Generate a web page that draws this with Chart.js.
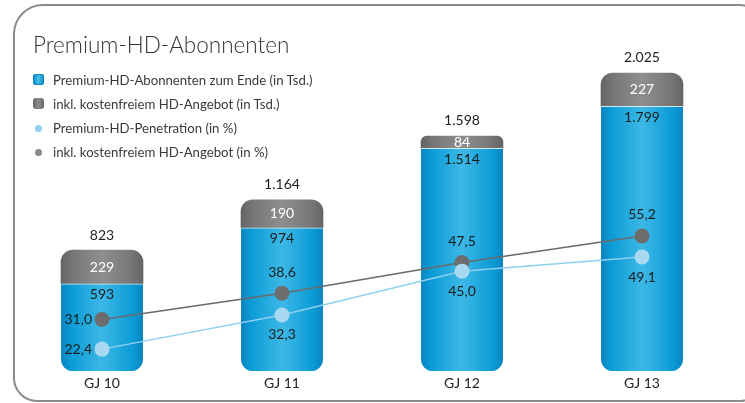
<!DOCTYPE html>
<html>
<head>
<meta charset="utf-8">
<script src="https://cdn.jsdelivr.net/npm/chart.js@4"></script>
<style>
html,body{margin:0;padding:0;background:#fff;overflow:hidden;}
#wrap{position:relative;width:745px;height:403px;overflow:hidden;}
#frame{position:absolute;left:13px;top:4px;width:747px;height:398px;border:2px solid #8c8c8c;border-radius:30px 20px 20px 24px;box-sizing:border-box;}
#title{position:absolute;left:33px;top:34px;font-family:Lato,sans-serif;font-weight:300;font-size:22.5px;line-height:22px;color:#333;white-space:nowrap;}
#legend{position:absolute;left:33px;top:68px;font-family:Lato,sans-serif;font-size:13.2px;color:#3a3a3a;}
.row{height:24px;line-height:24px;white-space:nowrap;position:relative;padding-left:20px;}
.ico{position:absolute;}
#c{position:absolute;left:0;top:0;}
</style>
</head>
<body>
<div id="wrap">
  <div id="frame"></div>
  <canvas id="c" width="745" height="403"></canvas>
  <div id="title">Premium-HD-Abonnenten</div>
  <div id="legend"></div>
</div>
<script>
// ---- data ----
const categories = ['GJ 10', 'GJ 11', 'GJ 12', 'GJ 13'];
const premiumHD = [593, 974, 1514, 1799];          // Premium-HD-Abonnenten zum Ende (in Tsd.)
const freeHD = [229, 190, 84, 227];                // inkl. kostenfreiem HD-Angebot (in Tsd.)
const totals = [823, 1164, 1598, 2025];            // total label above bar
const penetration = [22.4, 32.3, 45.0, 49.1];      // Premium-HD-Penetration (in %)
const penetrationAll = [31.0, 38.6, 47.5, 55.2];   // inkl. kostenfreiem HD-Angebot (in %)
const seriesNames = [
  'Premium-HD-Abonnenten zum Ende (in Tsd.)',
  'inkl. kostenfreiem HD-Angebot (in Tsd.)',
  'Premium-HD-Penetration (in %)',
  'inkl. kostenfreiem HD-Angebot (in %)'
];

function fmtInt(v){ return String(v).replace(/\B(?=(\d{3})+(?!\d))/g, '.'); }
function fmtPct(v){ return v.toFixed(1).replace('.', ','); }

// ---- legend (HTML) ----
const icons = [
  '<span class="ico" style="left:0;top:6px;width:11px;height:11px;border-radius:3px;background:linear-gradient(90deg,#0b8ac6,#45bde8,#0b8ac6);box-shadow:inset 0 0 0 1px #0a86c0"></span>',
  '<span class="ico" style="left:0;top:6px;width:11px;height:11px;border-radius:3px;background:linear-gradient(90deg,#666,#8e8e8e,#666)"></span>',
  '<span class="ico" style="left:2px;top:9px;width:7px;height:7px;border-radius:50%;background:#8fd0ee"></span>',
  '<span class="ico" style="left:2px;top:9px;width:7px;height:7px;border-radius:50%;background:#888"></span>'
];
document.getElementById('legend').innerHTML = seriesNames.map((n, i) =>
  '<div class="row">' + icons[i] + n + '</div>').join('');

// ---- gradients ----
function barGradient(context, stops, fallback) {
  const chart = context.chart;
  if (!chart.chartArea || context.dataIndex === undefined) return fallback;
  const x = chart.scales.x.getPixelForValue(context.dataIndex);
  const g = chart.ctx.createLinearGradient(x - 41, 0, x + 41, 0);
  stops.forEach(s => g.addColorStop(s[0], s[1]));
  return g;
}
const blueStops = [[0,'#0a84c0'],[0.12,'#0b9bd6'],[0.5,'#3cb8e6'],[0.88,'#0b9bd6'],[1,'#0a84c0']];
const greyStops = [[0,'#646464'],[0.15,'#777'],[0.5,'#8e8e8e'],[0.85,'#777'],[1,'#646464']];

// ---- labels plugin ----
const valueLabels = {
  id: 'valueLabels',
  afterDatasetsDraw(chart) {
    const ctx = chart.ctx;
    const mB = chart.getDatasetMeta(0), mG = chart.getDatasetMeta(1);
    const mP = chart.getDatasetMeta(2), mA = chart.getDatasetMeta(3);
    ctx.save();
    ctx.font = '14px Lato';
    ctx.textBaseline = 'middle';
    categories.forEach((c, i) => {
      const b = mB.data[i], g = mG.data[i];
      ctx.textAlign = 'center';
      ctx.fillStyle = '#222';
      ctx.fillText(fmtInt(totals[i]), g.x, g.y - 15);
      ctx.fillStyle = '#fff';
      ctx.fillText(fmtInt(freeHD[i]), g.x, (g.y + g.base) / 2);
      ctx.fillStyle = '#1c1c1c';
      ctx.fillText(fmtInt(premiumHD[i]), b.x, b.y + 11);
      const pa = mA.data[i], pp = mP.data[i];
      if (i === 0) {
        ctx.textAlign = 'right';
        ctx.fillText(fmtPct(penetrationAll[i]), pa.x - 10, pa.y);
        ctx.fillText(fmtPct(penetration[i]), pp.x - 10, pp.y);
      } else {
        ctx.textAlign = 'center';
        ctx.fillText(fmtPct(penetrationAll[i]), pa.x, pa.y - 21);
        ctx.fillText(fmtPct(penetration[i]), pp.x, pp.y + 20);
      }
    });
    ctx.restore();
  }
};

Chart.defaults.font.family = 'Lato';
new Chart(document.getElementById('c'), {
  data: {
    labels: categories,
    datasets: [
      {
        type: 'bar', label: seriesNames[0], data: premiumHD, yAxisID: 'y', order: 2,
        backgroundColor: ctx => barGradient(ctx, blueStops, '#1aa6db'),
        borderColor: '#cfeaf6', borderWidth: {top: 1, left: 0, right: 0, bottom: 0},
        borderSkipped: false,
        borderRadius: {topLeft: 0, topRight: 0, bottomLeft: 12, bottomRight: 12},
        barThickness: 82
      },
      {
        type: 'bar', label: seriesNames[1], data: freeHD, yAxisID: 'y', order: 2,
        backgroundColor: ctx => barGradient(ctx, greyStops, '#7a7a7a'),
        borderWidth: 0, borderSkipped: false,
        borderRadius: {topLeft: 12, topRight: 12, bottomLeft: 0, bottomRight: 0},
        barThickness: 82
      },
      {
        type: 'line', label: seriesNames[2], data: penetration, yAxisID: 'y1', order: 0,
        borderColor: '#8fd0ee', borderWidth: 1.5, backgroundColor: '#a9d9f1',
        pointBackgroundColor: '#a9d9f1', pointBorderWidth: 0, pointRadius: 7.5, tension: 0, fill: false
      },
      {
        type: 'line', label: seriesNames[3], data: penetrationAll, yAxisID: 'y1', order: 0,
        borderColor: '#6a6a6a', borderWidth: 1.5, backgroundColor: '#6d6d6d',
        pointBackgroundColor: '#6d6d6d', pointBorderWidth: 0, pointRadius: 7.5, tension: 0, fill: false
      }
    ]
  },
  options: {
    responsive: false,
    devicePixelRatio: 1,
    animation: false,
    events: [],
    layout: {padding: {top: 40, left: 12, right: 13, bottom: 7}},
    plugins: {legend: {display: false}, title: {display: false}, tooltip: {enabled: false}},
    scales: {
      x: {
        stacked: true,
        grid: {display: false, drawTicks: false},
        border: {display: false},
        ticks: {font: {size: 14}, color: '#222', padding: 4}
      },
      y: {display: false, stacked: true, min: 0, max: 2250},
      y1: {display: false, min: 16, max: 112}
    }
  },
  plugins: [valueLabels]
});
</script>
</body>
</html>
